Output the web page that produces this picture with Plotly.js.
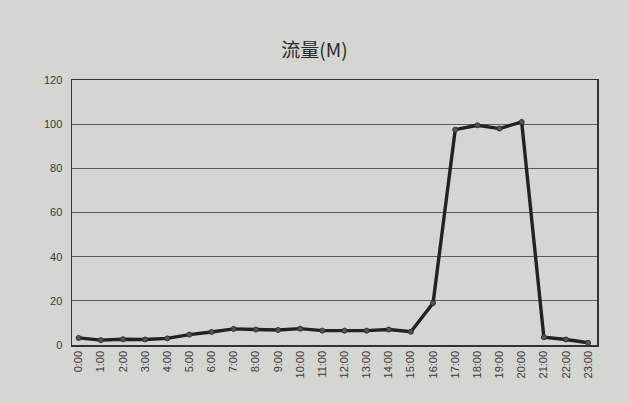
<!DOCTYPE html>
<html>
<head>
<meta charset="utf-8">
<script src="https://cdn.plot.ly/plotly-3.0.1.min.js"></script>
<style>
html,body{margin:0;padding:0;background:#d5d5d1;}
#chart{width:629px;height:403px;}
</style>
</head>
<body>
<div id="chart"></div>
<script>
const hours = ["0:00","1:00","2:00","3:00","4:00","5:00","6:00","7:00","8:00","9:00","10:00","11:00",
               "12:00","13:00","14:00","15:00","16:00","17:00","18:00","19:00","20:00","21:00","22:00","23:00"];
const traffic = [3.2, 2.2, 2.6, 2.5, 3, 4.7, 5.9, 7.3, 7, 6.8, 7.4, 6.5,
                 6.5, 6.5, 7, 6, 19, 97.5, 99.5, 98, 101, 3.5, 2.5, 1];
const yTicks = [0, 20, 40, 60, 80, 100, 120];
const chartTitle = "流量(M)";

const trace = {
  x: hours,
  y: traffic,
  type: "scatter",
  mode: "lines+markers",
  line: {color: "#222", width: 3.4},
  marker: {color: "#555", size: 5, line: {color: "#333", width: 1}},
  hoverinfo: "skip"
};

const layout = {
  width: 629, height: 403,
  paper_bgcolor: "#d5d5d1",
  plot_bgcolor: "#d5d5d1",
  margin: {l: 72, r: 32, t: 80, b: 58},
  showlegend: false,
  font: {family: "Liberation Sans, Arial, sans-serif", color: "#3a3a3a", size: 11},
  title: {
    text: chartTitle,
    x: 0.5, xanchor: "center", y: 0.875, yanchor: "middle",
    font: {family: "Noto Sans CJK SC, Liberation Sans, sans-serif", size: 19, color: "#2a2a2a"}
  },
  xaxis: {
    type: "category",
    range: [-0.3, 23.4],
    tickangle: -90,
    showgrid: false,
    showline: true, mirror: true, linecolor: "#333", linewidth: 1.5,
    ticks: "", zeroline: false,
    tickfont: {size: 11, color: "#3a3a3a"}
  },
  yaxis: {
    range: [0, 120],
    tickvals: yTicks,
    ticktext: yTicks.map(String),
    showgrid: true, gridcolor: "#5a5a5a", gridwidth: 1,
    showline: true, mirror: true, linecolor: "#333", linewidth: 1.5,
    ticks: "", zeroline: false,
    ticklabelstandoff: 6,
    tickfont: {size: 11, color: "#3a3a3a"}
  }
};

Plotly.newPlot("chart", [trace], layout, {staticPlot: true, displayModeBar: false});
</script>
</body>
</html>
